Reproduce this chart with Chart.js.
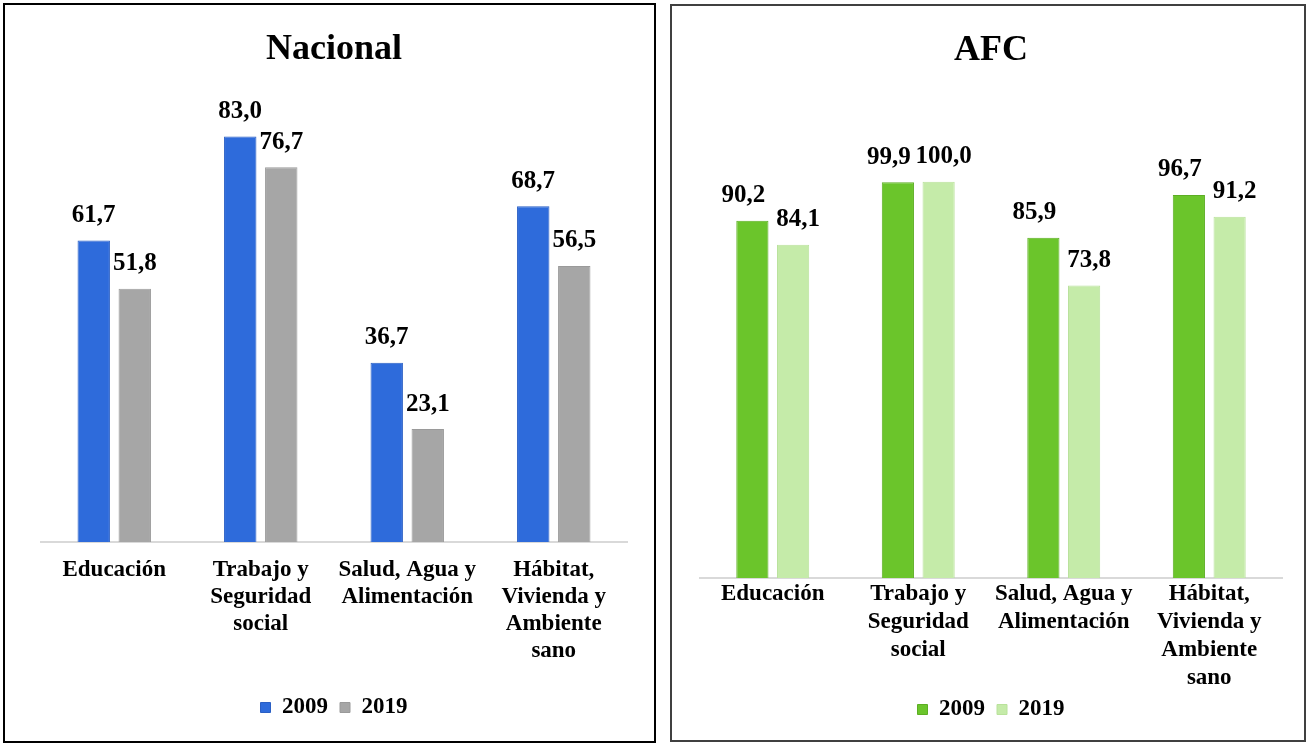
<!DOCTYPE html>
<html>
<head>
<meta charset="utf-8">
<script src="https://cdn.jsdelivr.net/npm/chart.js@4/dist/chart.umd.min.js"></script>
<style>
  body { margin: 0; background: #fff; }
  .panel { position: absolute; box-sizing: border-box; background: #fff; }
  #p1 { left: 3px; top: 3px; width: 653px; height: 740px; border: 2px solid #000; }
  #p2 { left: 670px; top: 4px; width: 636px; height: 738px; border: 2px solid #404040; }
  canvas { display: block; }
</style>
</head>
<body>
<div class="panel" id="p1"><canvas id="nacional" width="649" height="736"></canvas></div>
<div class="panel" id="p2"><canvas id="afc" width="632" height="734"></canvas></div>
<script>
// categorías (etiquetas en varias líneas)
const categories = [
  ['Educación'],
  ['Trabajo y', 'Seguridad', 'social'],
  ['Salud, Agua y', 'Alimentación'],
  ['Hábitat,', 'Vivienda y', 'Ambiente', 'sano'],
];
const years = ['2009', '2019'];

// valores
const nacional2009 = [61.7, 83.0, 36.7, 68.7];
const nacional2019 = [51.8, 76.7, 23.1, 56.5];
const afc2009 = [90.2, 99.9, 85.9, 96.7];
const afc2019 = [84.1, 100.0, 73.8, 91.2];

const SERIF = '"Liberation Serif", "Times New Roman", serif';

// etiquetas de valor encima de las barras
const valueLabels = {
  id: 'valueLabels',
  afterDatasetsDraw(chart, args, opts) {
    const ctx = chart.ctx;
    ctx.save();
    ctx.font = 'bold 25px ' + SERIF;
    ctx.fillStyle = '#000';
    ctx.textAlign = 'center';
    ctx.textBaseline = 'middle';
    chart.data.datasets.forEach((ds, i) => {
      const dx = (opts.dx || [])[i] || 0;
      chart.getDatasetMeta(i).data.forEach((bar, j) => {
        ctx.fillText(ds.data[j].toFixed(1).replace('.', ','), bar.x + dx, bar.y - 25);
      });
    });
    ctx.restore();
  }
};

function makeChart(id, cfg) {
  return new Chart(document.getElementById(id), {
    type: 'bar',
    data: {
      labels: categories,
      datasets: [
        { label: years[0], data: cfg.a, backgroundColor: cfg.colors[0], borderColor: cfg.borders[0], borderWidth: 1 },
        { label: years[1], data: cfg.b, backgroundColor: cfg.colors[1], borderColor: cfg.borders[1], borderWidth: 1 },
      ],
    },
    options: {
      responsive: false,
      animation: false,
      devicePixelRatio: 1,
      datasets: { bar: { categoryPercentage: 0.56, barPercentage: 0.79 } },
      layout: { padding: { left: cfg.padL, right: cfg.padR, top: 0, bottom: cfg.padB } },
      scales: {
        x: {
          grid: { display: false, drawTicks: false },
          border: { display: true, color: '#d9d9d9', width: 2 },
          ticks: {
            color: '#000',
            autoSkip: false,
            maxRotation: 0,
            padding: cfg.tickPad,
            font: { family: SERIF, size: 23, weight: 'bold', lineHeight: cfg.lineH },
          },
          afterFit(scale) { scale.height = cfg.axisH; },
        },
        y: { display: false, min: 0, max: cfg.max },
      },
      plugins: {
        title: {
          display: true,
          text: cfg.title,
          color: '#000',
          font: { family: SERIF, size: 36, weight: 'bold', lineHeight: 1.2 },
          padding: { top: 23, bottom: cfg.titleB },
        },
        legend: {
          position: 'bottom',
          labels: {
            color: '#000',
            boxWidth: 10,
            boxHeight: 10,
            padding: 12,
            font: { family: SERIF, size: 23, weight: 'bold' },
          },
        },
        tooltip: { enabled: false },
        valueLabels: { dx: cfg.dx },
      },
    },
    plugins: [valueLabels],
  });
}

makeChart('nacional', {
  title: 'Nacional', a: nacional2009, b: nacional2019,
  colors: ['#2e6bdb', '#a6a6a6'], borders: ['#2a5fc4', '#9a9a9a'],
  max: 90, padL: 36, padR: 27, padB: 12, axisH: 142, tickPad: 15, lineH: 1.17, titleB: 31,
  dx: [0, 0],
});

makeChart('afc', {
  title: 'AFC', a: afc2009, b: afc2019,
  colors: ['#6bc52b', '#c5eba9'], borders: ['#5cae23', '#b9e29b'],
  max: 110, padL: 28, padR: 22, padB: 9, axisH: 108, tickPad: 2, lineH: 1.22, titleB: 70,
  dx: [-9, 5],
});
</script>
</body>
</html>
